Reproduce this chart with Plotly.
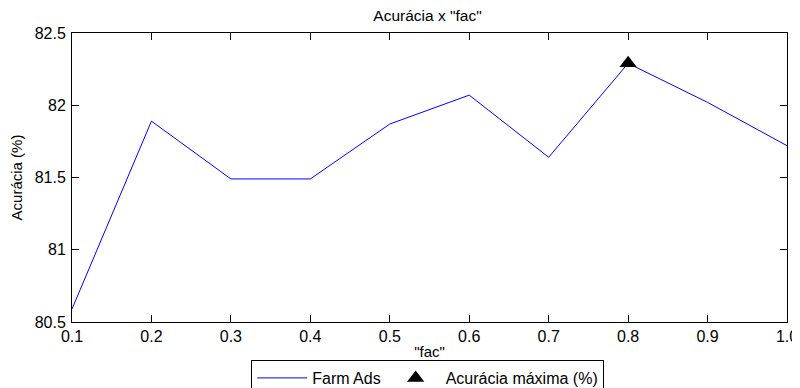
import plotly.graph_objects as go

fac = [0.1, 0.2, 0.3, 0.4, 0.5, 0.6, 0.7, 0.8, 0.9, 1.0]
acuracia = [80.59, 81.89, 81.49, 81.49, 81.87, 82.07, 81.64, 82.29, 82.02, 81.72]
max_fac = [0.8]
max_acc = [82.29]
x_ticks = [0.1, 0.2, 0.3, 0.4, 0.5, 0.6, 0.7, 0.8, 0.9, 1.0]
x_labels = ["0.1", "0.2", "0.3", "0.4", "0.5", "0.6", "0.7", "0.8", "0.9", "1.0"]
y_ticks = [80.5, 81, 81.5, 82, 82.5]
y_labels = ["80.5", "81", "81.5", "82", "82.5"]

FONT = "Liberation Sans, Arial, sans-serif"
FS_TICK = 16
FS_TXT = 15
W, H = 792, 380  # page body has an 8px margin in the 800x388 window

fig = go.Figure()
fig.add_trace(go.Scatter(x=fac, y=acuracia, mode="lines", name="Farm Ads",
                         line=dict(color="#0000ff", width=1)))
fig.add_trace(go.Scatter(x=max_fac, y=max_acc, mode="markers", name="Acurácia máxima (%)",
                         marker=dict(symbol="triangle-up", size=15, color="black")))

axis_common = dict(showgrid=False, zeroline=False, showline=True, linecolor="black",
                   linewidth=1, mirror="ticks", ticks="inside", ticklen=7,
                   tickcolor="black", tickwidth=1, automargin=False,
                   tickfont=dict(family=FONT, size=FS_TICK, color="black"))

fig.update_layout(
    width=W, height=H,
    margin=dict(l=64, r=13, t=25, b=66, autoexpand=False),
    paper_bgcolor="white", plot_bgcolor="white",
    font=dict(family=FONT, size=FS_TXT, color="black"),
    title=dict(text='Acurácia x "fac"', x=419.5 / W, xanchor="center",
               xref="container", yref="container", y=1 - 8 / H, yanchor="middle",
               font=dict(family=FONT, size=15.5, color="black")),
    xaxis=dict(range=[0.1, 1.0], tickvals=x_ticks, ticktext=x_labels,
               title=dict(text='"fac"', standoff=5, font=dict(family=FONT, size=FS_TXT)),
               **axis_common),
    yaxis=dict(range=[80.5, 82.5], tickvals=y_ticks, ticktext=y_labels,
               ticklabelstandoff=2,
               title=dict(text="Acurácia (%)", standoff=9, font=dict(family=FONT, size=FS_TXT)),
               **axis_common),
    legend=dict(orientation="h", x=0.4975, xanchor="center",
                yref="container", y=(H - 352) / H, yanchor="top",
                bordercolor="black", borderwidth=1, bgcolor="white",
                font=dict(family=FONT, size=16, color="black"), itemwidth=50,
                tracegroupgap=0),
    showlegend=True,
)

fig.write_html("out.html")
